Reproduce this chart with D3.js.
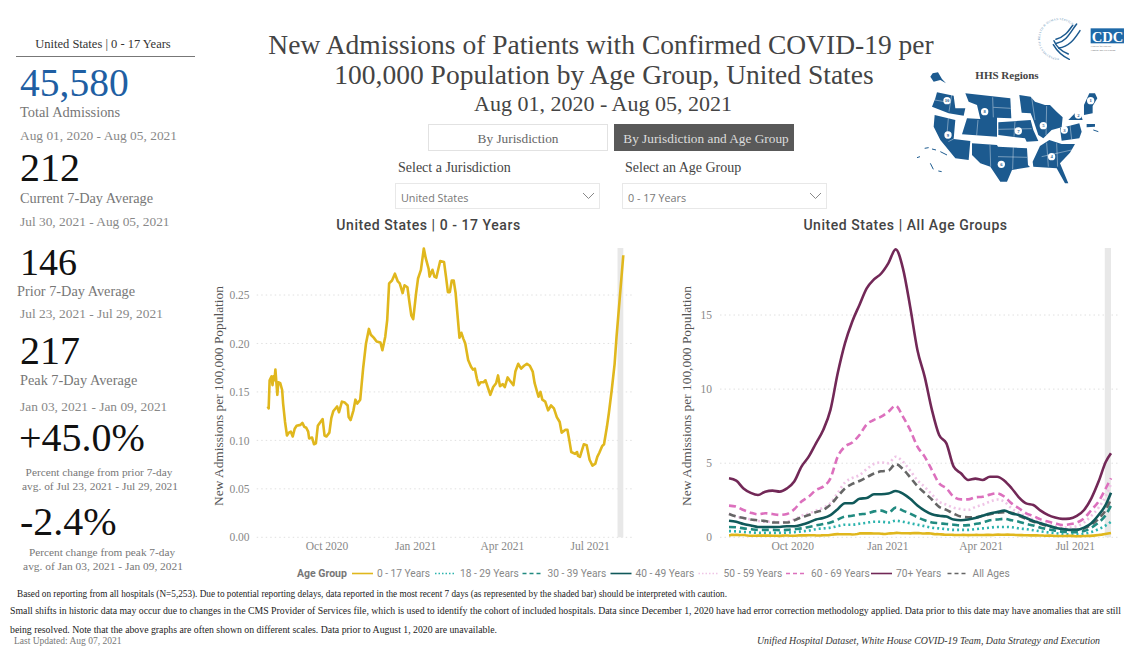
<!DOCTYPE html>
<html>
<head>
<meta charset="utf-8">
<title>New Admissions by Age Group</title>
<script src="https://cdn.jsdelivr.net/npm/d3@7"></script>
<style>
    html, body { margin: 0; padding: 0; background: #fff; overflow: hidden; }
    text { font-family: "Liberation Serif", serif; }
    .din { font-family: Roboto, sans-serif; }
    .ui { font-family: "Open Sans", sans-serif; }
</style>
</head>
<body>
<div id="chart"></div>
<script>
// New admissions dashboard

var startDate = new Date(2020, 7, 1);

// days since Aug 1 2020 for the 0 - 17 series (left chart, also drawn right)
var kidsDays = [
    0,1,2,4,5,6,7,8,10,11,
    13,15,16,18,20,22,24,26,28,30,
    34,36,38,40,42,43,46,48,50,52,
    54,57,59,61,64,66,68,72,74,77,
    80,83,84,86,89,91,93,96,99,102,
    105,107,110,113,117,119,122,124,126,129,
    132,135,137,140,142,145,147,149,151,154,
    156,159,162,164,167,168,171,173,175,179,
    183,185,187,189,191,193,195,197,199,201,
    203,205,208,211,213,215,217,219,221,224,
    226,229,231,234,237,239,241,244,246,249,
    251,255,257,260,263,266,269,272,275,277,
    281,283,285,288,291,294,297,300,303,305,
    309,311,313,315,319,321,322,324,328,331,
    334,337,340,342,344,347,349,352,354,357,
    360,362,366,369
];
var kidsValues = [
    .135,.133,.162,.166,.157,.166,.162,.173,.147,.160,
    .159,.152,.138,.119,.105,.108,.109,.104,.112,.115,
    .116,.118,.114,.113,.109,.102,.103,.096,.097,.115,
    .118,.122,.105,.104,.108,.123,.130,.135,.129,.140,
    .139,.136,.124,.121,.131,.142,.138,.142,.174,.200,
    .215,.209,.206,.202,.201,.193,.207,.224,.262,.265,
    .272,.264,.262,.252,.260,.258,.243,.229,.225,.252,
    .267,.276,.298,.288,.277,.269,.276,.269,.268,.285,
    .284,.269,.253,.253,.265,.265,.252,.229,.206,.211,
    .205,.200,.183,.176,.173,.174,.164,.157,.160,.160,
    .162,.153,.147,.155,.159,.167,.156,.158,.155,.165,
    .162,.157,.171,.179,.174,.177,.179,.177,.171,.159,
    .145,.150,.142,.140,.131,.136,.133,.124,.119,.108,
    .111,.111,.100,.088,.086,.088,.084,.083,.096,.095,
    .080,.074,.076,.083,.087,.094,.096,.114,.128,.152,
    .179,.207,.255,.291
];

// weekly readings for the other age groups
var weekDays = [
    0,7,14,21,28,35,42,49,56,63,
    70,77,84,91,98,105,112,119,126,133,
    140,147,154,161,168,175,182,189,196,203,
    210,217,224,231,238,245,252,259,266,273,
    280,287,294,301,308,315,322,329,336,343,
    350,357,364,369
];
var age18to29 = [
    .42,.40,.36,.33,.30,.30,.30,.30,.32,.35,
    .40,.45,.55,.60,.65,.75,.85,.85,.92,.98,
    1.05,1.05,1.00,1.12,1.05,.95,.85,.75,.65,.60,
    .55,.50,.50,.50,.55,.60,.65,.70,.70,.68,
    .60,.55,.48,.40,.33,.28,.22,.20,.20,.25,
    .35,.55,.80,1.05
];
var age30to39 = [
    .70,.68,.60,.55,.50,.50,.50,.48,.50,.55,
    .60,.70,.80,.90,1.00,1.20,1.40,1.45,1.55,1.60,
    1.75,1.80,1.65,2.00,1.80,1.60,1.35,1.15,1.00,.95,
    .90,.85,.80,.82,.90,1.00,1.15,1.20,1.25,1.15,
    1.05,.90,.80,.65,.55,.45,.38,.35,.35,.42,
    .65,1.00,1.50,2.15
];
var age40to49 = [
    1.12,1.05,.90,.80,.70,.70,.70,.70,.75,.75,
    .85,1.00,1.20,1.30,1.50,1.90,2.30,2.30,2.60,2.65,
    2.90,2.90,2.95,3.12,2.95,2.60,2.15,1.80,1.55,1.45,
    1.40,1.20,1.15,1.20,1.30,1.45,1.60,1.70,1.80,1.60,
    1.50,1.30,1.10,.95,.80,.65,.55,.50,.50,.65,
    .95,1.50,2.20,3.00
];
var age50to59 = [
    1.60,1.40,1.30,1.20,1.10,1.05,1.05,1.00,1.05,1.20,
    1.45,1.60,1.80,2.00,2.30,3.00,3.70,4.00,4.20,4.60,
    4.95,5.05,5.00,5.44,5.10,4.50,3.85,3.40,2.90,2.40,
    2.20,2.00,1.90,1.85,2.05,2.20,2.40,2.55,2.40,1.95,
    1.65,1.40,1.20,1.00,.85,.75,.65,.65,.75,1.00,
    1.45,2.00,2.80,3.60
];
var age60to69 = [
    2.14,2.07,1.84,1.66,1.55,1.62,1.57,1.51,1.57,1.89,
    2.41,2.74,3.19,3.42,3.98,5.44,6.12,6.39,6.90,7.62,
    7.92,8.14,8.48,8.88,8.14,7.24,6.12,5.44,4.54,3.64,
    3.31,2.74,2.56,2.56,2.70,2.74,2.88,2.97,2.74,2.29,
    1.96,1.62,1.44,1.21,1.06,.94,.83,.88,.99,1.28,
    1.84,2.41,3.31,3.98
];
var age70plus = [
    3.98,3.82,3.30,3.00,2.85,3.08,3.15,3.08,3.30,3.76,
    4.77,5.44,6.34,7.24,8.60,11.07,13.09,14.55,15.68,16.80,
    17.40,17.80,18.50,19.43,18.15,15.56,12.64,10.84,8.60,6.90,
    6.34,4.77,4.32,3.87,3.96,3.87,4.09,4.09,3.82,3.31,
    2.70,2.29,2.18,1.80,1.51,1.33,1.24,1.26,1.44,1.84,
    2.63,3.76,5.10,5.67
];
var allAges = [
    1.57,1.40,1.30,1.20,1.15,1.10,1.00,1.00,1.00,1.15,
    1.35,1.50,1.70,1.85,2.20,2.75,3.30,3.60,3.80,4.05,
    4.30,4.45,4.50,4.95,4.60,4.05,3.45,3.00,2.55,2.05,
    1.85,1.60,1.40,1.35,1.35,1.45,1.55,1.65,1.70,1.65,
    1.45,1.25,1.05,.90,.75,.65,.55,.50,.50,.60,
    .85,1.25,1.85,2.60
];

var leftTicks = [0, .05, .10, .15, .20, .25];
var rightTicks = [0, 5, 10, 15];
var dateTicks = [new Date(2020, 9, 1), new Date(2021, 0, 1), new Date(2021, 3, 1), new Date(2021, 6, 1)];
var shadeStart = new Date(2021, 6, 30);
var lastDate = d3.timeDay.offset(startDate, 369);

// draw order on the right chart, not the same as the legend order
var ageSeries = [
    {name: "70+ Years", days: weekDays, values: age70plus, color: "#722857", dash: null},
    {name: "60 - 69 Years", days: weekDays, values: age60to69, color: "#dc70bd", dash: "7,4"},
    {name: "50 - 59 Years", days: weekDays, values: age50to59, color: "#efc4e6", dash: "2,3"},
    {name: "All Ages", days: weekDays, values: allAges, color: "#666666", dash: "7,4"},
    {name: "40 - 49 Years", days: weekDays, values: age40to49, color: "#10595a", dash: null},
    {name: "30 - 39 Years", days: weekDays, values: age30to39, color: "#218a80", dash: "7,4"},
    {name: "18 - 29 Years", days: weekDays, values: age18to29, color: "#2bb3ad", dash: "2,3"},
    {name: "0 - 17 Years", days: kidsDays, values: kidsValues, color: "#e0b71d", dash: null}
];

var legendOrder = ["0 - 17 Years", "18 - 29 Years", "30 - 39 Years", "40 - 49 Years",
    "50 - 59 Years", "60 - 69 Years", "70+ Years", "All Ages"];
var legendX = [352, 435, 522.5, 610.5, 698.5, 786, 871, 947.5];

var svg = d3.select("#chart")
    .append("svg")
    .attr("width", 1124)
    .attr("height", 646)
    .style("display", "block");

function addText(str, x, y, size, color, anchor) {
    return svg.append("text")
        .attr("x", x)
        .attr("y", y)
        .attr("font-size", size)
        .attr("fill", color)
        .attr("text-anchor", anchor || "start")
        .text(str);
}

// ---- left stat column
addText("United States | 0 - 17 Years", 103, 47.5, 12.5, "#333", "middle");
svg.append("line").attr("x1", 16).attr("x2", 195).attr("y1", 56.5).attr("y2", 56.5)
    .attr("stroke", "#777").attr("stroke-width", 1.2);

addText("45,580", 20, 96, 39.5, "#1f5fa3");
addText("Total Admissions", 20, 117, 14.4, "#777");
addText("Aug 01, 2020 - Aug 05, 2021", 20, 140, 13.4, "#888");
addText("212", 20, 181, 40, "#111");
addText("Current 7-Day Average", 20, 203, 14.3, "#777");
addText("Jul 30, 2021 - Aug 05, 2021", 20, 226, 13.4, "#888");
addText("146", 20, 275, 38, "#111");
addText("Prior 7-Day Average", 17, 296, 14.3, "#777");
addText("Jul 23, 2021 - Jul 29, 2021", 20, 318, 13.4, "#888");
addText("217", 20, 364, 40, "#111");
addText("Peak 7-Day Average", 20, 385, 14.3, "#777");
addText("Jan 03, 2021 - Jan 09, 2021", 20, 411, 13.4, "#888");
addText("+45.0%", 19, 451, 40, "#111");
addText("Percent change from prior 7-day", 99, 476, 11.3, "#777", "middle");
addText("avg. of Jul 23, 2021 - Jul 29, 2021", 100, 490, 11.4, "#777", "middle");
addText("-2.4%", 20, 535, 40, "#111");
addText("Percent change from peak 7-day", 102, 556, 11.3, "#777", "middle");
addText("avg. of Jan 03, 2021 - Jan 09, 2021", 103, 570, 11.4, "#777", "middle");

// ---- titles
addText("New Admissions of Patients with Confirmed COVID-19 per", 601, 54, 27.5, "#444", "middle");
addText("100,000 Population by Age Group, United States", 604, 84, 27.5, "#444", "middle");
addText("Aug 01, 2020 - Aug 05, 2021", 603, 111, 22, "#444", "middle");

// ---- buttons and dropdowns
svg.append("rect").attr("x", 428.5).attr("y", 124.5).attr("width", 179).attr("height", 26)
    .attr("fill", "#fff").attr("stroke", "#e2e2e2");
addText("By Jurisdiction", 518, 143, 13.3, "#666", "middle");
svg.append("rect").attr("x", 614).attr("y", 124).attr("width", 180).attr("height", 27)
    .attr("fill", "#595959");
addText("By Jurisdiction and Age Group", 706, 143, 13.3, "#ddd", "middle");

function addDropdown(label, value, x) {
    addText(label, x + 3, 172, 14, "#444");
    svg.append("rect").attr("x", x + 0.5).attr("y", 183.5).attr("width", 204).attr("height", 25)
        .attr("fill", "#fff").attr("stroke", "#e8e8e8");
    addText(value, x + 6, 201.5, 10.8, "#777").attr("class", "ui");
    svg.append("polyline")
        .attr("points", [[x + 188, 193], [x + 193.5, 198.5], [x + 199, 193]].join(" "))
        .attr("fill", "none").attr("stroke", "#888");
}
addDropdown("Select a Jurisdiction", "United States", 395);
addDropdown("Select an Age Group", "0 - 17 Years", 622);

// ---- charts
function drawChart(opts) {
    var x = d3.scaleTime().domain([startDate, lastDate]).range(opts.xRange);
    var y = d3.scaleLinear().domain(opts.yDomain).range(opts.yRange);

    var group = svg.append("g");

    group.append("g").selectAll("line")
        .data(opts.ticks)
        .enter()
        .append("line")
        .attr("x1", opts.gridRange[0])
        .attr("x2", opts.gridRange[1])
        .attr("y1", d => y(d))
        .attr("y2", d => y(d))
        .attr("stroke", "#e0e0e0")
        .attr("stroke-dasharray", "1.5,3");

    group.append("rect")
        .attr("x", x(shadeStart))
        .attr("width", x(lastDate) - x(shadeStart))
        .attr("y", 248)
        .attr("height", y(0) - 248)
        .attr("fill", "#e8e8e8");

    var leftAxis = d3.axisLeft(y).tickValues(opts.ticks).tickSize(0).tickPadding(0).tickFormat(opts.tickFormat);
    var yAxis = group.append("g").attr("transform", `translate(${opts.tickX}, 0)`).call(leftAxis);
    yAxis.select(".domain").remove();

    var bottomAxis = d3.axisBottom(x).tickValues(dateTicks).tickSize(0).tickPadding(0).tickFormat(d3.timeFormat("%b %Y"));
    var xAxis = group.append("g").attr("transform", "translate(0, 542)").call(bottomAxis);
    xAxis.select(".domain").remove();

    group.selectAll(".tick text")
        .attr("font-family", "Liberation Serif")
        .attr("font-size", 11.5)
        .attr("fill", "#888");

    // weekly series are smoothed, the 0 - 17 series has enough points as is
    opts.series.forEach(function(s) {
        var line = d3.line()
            .x(d => x(d3.timeDay.offset(startDate, d[0])))
            .y(d => y(d[1]))
            .curve(s.days === weekDays ? d3.curveMonotoneX : d3.curveLinear);

        group.append("path")
            .datum(d3.zip(s.days, s.values))
            .attr("d", line)
            .attr("fill", "none")
            .attr("stroke", s.color)
            .attr("stroke-width", 2.6)
            .attr("stroke-dasharray", s.dash)
            .attr("stroke-linejoin", "round");
    });

    svg.append("text")
        .attr("transform", `translate(${opts.titleX}, 396) rotate(-90)`)
        .attr("text-anchor", "middle")
        .attr("font-size", 13.4)
        .attr("fill", "#555")
        .text("New Admissions per 100,000 Population");

    addText(opts.title, opts.titleCenter, 230, 14, "#444", "middle")
        .attr("class", "din")
        .attr("font-weight", 500)
        .attr("letter-spacing", 0.55);
}

drawChart({
    xRange: [267.7, 623.3],
    yDomain: [0, .25],
    yRange: [537.3, 295],
    gridRange: [256.7, 633],
    ticks: leftTicks,
    tickFormat: d3.format(".2f"),
    tickX: 249.5,
    titleX: 223,
    titleCenter: 428.5,
    title: "United States | 0 - 17 Years",
    series: [ageSeries[7]]
});

drawChart({
    xRange: [729, 1111],
    yDomain: [0, 15],
    yRange: [537.3, 315],
    gridRange: [720, 1118],
    ticks: rightTicks,
    tickFormat: d3.format("d"),
    tickX: 712,
    titleX: 691,
    titleCenter: 905.5,
    title: "United States | All Age Groups",
    series: ageSeries
});

// ---- legend
addText("Age Group", 297, 577, 10.5, "#777").attr("class", "din").attr("font-weight", 700);
legendOrder.forEach(function(name, i) {
    var s = ageSeries.find(d => d.name === name);
    svg.append("line")
        .attr("x1", legendX[i]).attr("x2", legendX[i] + 21)
        .attr("y1", 573.5).attr("y2", 573.5)
        .attr("stroke", s.color)
        .attr("stroke-width", 1.6)
        .attr("stroke-dasharray", s.dash === null ? null : (s.dash === "2,3" ? "1.5,2" : "4,3"));
    addText(name, legendX[i] + 25, 577, 10.2, "#888").attr("class", "din");
});

// ---- footnotes
addText("Based on reporting from all hospitals (N=5,253). Due to potential reporting delays, data reported in the most recent 7 days (as represented by the shaded bar) should be interpreted with caution.",
    17, 597, 9.5, "#222").attr("textLength", 710).attr("lengthAdjust", "spacingAndGlyphs");
addText("Small shifts in historic data may occur due to changes in the CMS Provider of Services file, which is used to identify the cohort of included hospitals. Data since December 1, 2020 have had error correction methodology applied. Data prior to this date may have anomalies that are still",
    10, 614, 9.5, "#222").attr("textLength", 1111).attr("lengthAdjust", "spacingAndGlyphs");
addText("being resolved. Note that the above graphs are often shown on different scales. Data prior to August 1, 2020 are unavailable.",
    10, 633, 9.5, "#222").attr("textLength", 487).attr("lengthAdjust", "spacingAndGlyphs");
addText("Last Updated: Aug 07, 2021", 14, 644, 9.5, "#777");
addText("Unified Hospital Dataset, White House COVID-19 Team, Data Strategy and Execution", 757, 643.5, 9.5, "#333")
    .attr("font-style", "italic").attr("textLength", 343).attr("lengthAdjust", "spacingAndGlyphs");

// ---- logos and HHS map, sketched in crop coordinates (1 unit = 1/3 px)
var mapGroup = svg.append("g").attr("transform", "translate(900, 10) scale(0.3333)");
var mapBlue = "#1c5a8f";

var hhsRing = mapGroup.append("g");
hhsRing.append("path")
    .attr("id", "ringPath")
    .attr("d", "M 477,144 a 57,57 0 0,1 0,-114 a 57,57 0 0,1 0,114")
    .attr("fill", "none");
hhsRing.append("text")
    .attr("font-size", 9)
    .attr("font-family", "Liberation Sans")
    .attr("letter-spacing", 0.8)
    .attr("fill", "#6a94b8")
    .append("textPath")
    .attr("href", "#ringPath")
    .text("DEPARTMENT OF HEALTH & HUMAN SERVICES");

["M530,42 C510,68 500,94 470,100",
 "M518,46 C505,64 495,80 468,88",
 "M540,62 C525,84 510,110 476,114",
 "M460,104 C472,125 490,140 508,148",
 "M462,92 C470,112 488,125 505,132"
].forEach(function(d) {
    hhsRing.append("path").attr("d", d).attr("fill", "none")
        .attr("stroke", mapBlue).attr("stroke-width", 4.5).attr("stroke-linecap", "round");
});

mapGroup.append("rect").attr("x", 572).attr("y", 55).attr("width", 100).attr("height", 45).attr("fill", "#1e69a8");
mapGroup.append("text").attr("x", 575).attr("y", 95).attr("font-size", 44).attr("font-weight", 700)
    .attr("font-family", "Liberation Sans").attr("fill", "#fff")
    .attr("textLength", 95).attr("lengthAdjust", "spacingAndGlyphs").text("CDC");
mapGroup.append("text").attr("x", 572).attr("y", 112).attr("font-size", 8)
    .attr("font-family", "Liberation Sans").attr("fill", "#666").text("Centers for Disease");
mapGroup.append("text").attr("x", 572).attr("y", 122).attr("font-size", 8)
    .attr("font-family", "Liberation Sans").attr("fill", "#666").text("Control and Prevention");

addText("HHS Regions", 1007, 79, 11, "#444", "middle").attr("font-weight", 700);

var regionShapes = [
    "M98,190 L114,187 L126,207 L138,220 L121,210 L101,215 L91,200 Z",
    "M111,247 L161,257 L166,295 L196,295 L191,317 L146,310 L96,290 L106,265 Z",
    "M196,250 L331,265 L334,325 L291,323 L291,380 L186,373 L201,325 L241,327 L231,285 L206,275 Z",
    "M104,315 L166,330 L161,387 L211,393 L206,450 L166,445 L121,390 L101,350 Z",
    "M295,337 L392,330 L400,360 L415,393 L380,395 L375,385 L295,375 Z",
    "M216,400 L291,405 L294,410 L381,415 L384,465 L390,471 L336,480 L321,515 L301,515 L271,470 L241,460 L216,435 Z",
    "M358,255 L392,260 L405,275 L435,285 L450,285 L470,305 L488,322 L485,352 L455,360 L430,385 L415,375 L400,330 L392,310 L365,308 Z",
    "M420,408 L448,390 L485,402 L525,402 L510,428 L480,460 L505,520 L495,520 L470,475 L400,470 L398,455 Z",
    "M480,355 L538,340 L545,365 L538,385 L485,392 Z",
    "M505,330 L525,310 L540,305 L548,330 L525,330 Z",
    "M560,342 L585,342 L585,350 L560,352 Z",
    "M568,250 L585,250 L592,265 L578,288 L578,310 L552,315 L552,285 Z"
];
mapGroup.selectAll("path.region")
    .data(regionShapes)
    .enter()
    .append("path")
    .attr("class", "region")
    .attr("d", d => d)
    .attr("fill", mapBlue);

// island groups and state borders, just short strokes
["M74,415 L86,413", "M96,417 L108,420", "M121,425 L141,435", "M51,443 L60,440",
 "M91,460 L100,478", "M115,483 L125,485", "M580,360 L595,365"].forEach(function(d) {
    mapGroup.append("path").attr("d", d).attr("stroke", mapBlue).attr("stroke-width", 3).attr("fill", "none");
});
["M155,255 L147,305", "M104,270 L152,278", "M278,262 L280,322", "M280,292 L332,295", "M234,330 L230,376",
 "M145,325 L140,385", "M161,387 L145,395", "M345,335 L342,380", "M295,358 L395,356",
 "M270,405 L272,470", "M294,440 L381,442", "M340,412 L338,478", "M395,262 L405,330", "M440,288 L438,375",
 "M425,440 L515,420", "M440,398 L445,470", "M470,400 L473,470", "M510,345 L515,388"
].forEach(function(d) {
    mapGroup.append("path").attr("d", d).attr("stroke", "#fff").attr("stroke-width", 1.2).attr("fill", "none");
});

var regionBadges = [[141, 272, "10"], [254, 305, "8"], [144, 375, "9"], [355, 363, "7"], [304, 463, "6"],
    [430, 347, "5"], [455, 440, "4"], [493, 360, "3"], [535, 315, "2"], [572, 272, "1"]];
regionBadges.forEach(function(b) {
    mapGroup.append("circle").attr("cx", b[0]).attr("cy", b[1]).attr("r", 11).attr("fill", "#fff");
    mapGroup.append("text").attr("x", b[0]).attr("y", b[1] + 5).attr("text-anchor", "middle")
        .attr("font-size", 14).attr("font-weight", 700).attr("fill", mapBlue).text(b[2]);
});
</script>
</body>
</html>
